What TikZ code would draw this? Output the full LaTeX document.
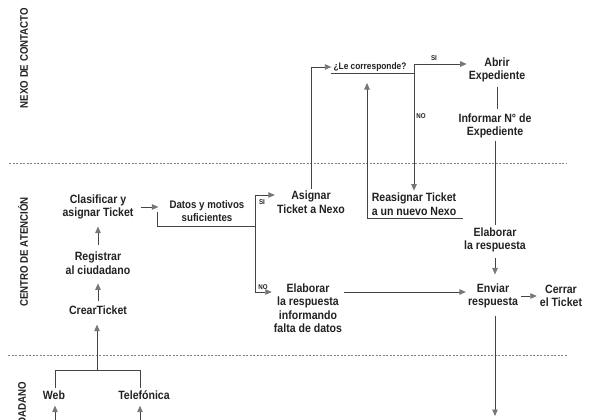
\documentclass[tikz,border=0pt]{standalone}
\usepackage{fontspec}
\newfontfamily\cf{Liberation Sans}[FakeStretch=0.88]
\usetikzlibrary{arrows.meta}
\definecolor{ink}{HTML}{222222}
\definecolor{lnc}{HTML}{444444}
\definecolor{tipc}{HTML}{777777}
\begin{document}
\begin{tikzpicture}[x=1pt,y=-1pt,
  txt/.style={font=\cf\bfseries\fontsize{12}{13.5}\selectfont, text=ink, align=center, inner sep=2pt},
  dtxt/.style={font=\cf\bfseries\fontsize{11}{12.5}\selectfont, text=ink, align=center, inner sep=2pt},
  smalltxt/.style={font=\cf\bfseries\fontsize{9.5}{11}\selectfont, text=ink, inner sep=2pt},
  tinytxt/.style={font=\cf\bfseries\fontsize{7}{8}\selectfont, text=ink, inner sep=1pt},
  lane/.style={font=\cf\bfseries\fontsize{11}{12}\selectfont, text=ink, rotate=90},
  lnk/.style={draw=lnc, line width=0.9pt},
  arr/.style={draw=lnc, line width=0.9pt, -{Triangle[length=6.5pt,width=5.5pt,color=tipc]}},
  lanesep/.style={draw=gray, line width=0.7pt, dash pattern=on 2pt off 1.5pt}]
\useasboundingbox (0,0) rectangle (594,420);
\clip (0,0) rectangle (594,420);
\fill[white] (0,0) rectangle (594,420);

% lane separators and labels
\draw[lanesep] (9,163) -- (567,163);
\draw[lanesep] (8,355) -- (567,355);
\node[lane] (l1) at (24,58) {NEXO DE CONTACTO};
\node[lane] (l2) at (23,252) {CENTRO DE ATENCIÓN};
\node[lane] (l3) at (22,412) {CIUDADANO};

% nodes
\node[txt] (clas) at (98,207) {Clasificar y\\asignar Ticket};
\node[txt] (reg) at (98,263) {Registrar\\al ciudadano};
\node[txt] (crear) at (98,310) {CrearTicket};
\node[dtxt] (datos) at (207,211) {Datos y motivos\\suficientes};
\node[txt] (asig) at (311,202) {Asignar\\Ticket a Nexo};
\node[txt] (elab1) at (308,308) {Elaborar\\la respuesta\\informando\\falta de datos};
\node[txt] (reas) at (414,204) {Reasignar Ticket\\a un nuevo Nexo};
\node[smalltxt] (lecor) at (370,67) {¿Le corresponde?};
\node[txt] (abrir) at (497,70) {Abrir\\Expediente};
\node[txt] (inform) at (495,126) {Informar N° de\\Expediente};
\node[txt] (elab2) at (495,240) {Elaborar\\la respuesta};
\node[txt] (enviar) at (493,296) {Enviar\\respuesta};
\node[txt] (cerrar) at (561,296) {Cerrar\\el Ticket};
\node[txt] (web) at (54,395) {Web};
\node[txt] (tel) at (144,395) {Telefónica};

% small labels
\node[tinytxt] (si1) at (262,202) {SI};
\node[tinytxt] (no1) at (263,287) {NO};
\node[tinytxt] (si2) at (434,58) {SI};
\node[tinytxt] (no2) at (421,116) {NO};

% coordinates
\coordinate (jl) at (55,370);
\coordinate (jr) at (140,370);
\coordinate (jm) at (97,370);
\coordinate (wb) at (55,425);
\coordinate (tb) at (140,425);
\coordinate (dl) at (157,212);
\coordinate (dj) at (255,226);
\coordinate (bt) at (255,195);
\coordinate (bb) at (255,292);
\coordinate (dq) at (414,64);
\coordinate (rr) at (463,218);
\coordinate (rt) at (367,83);
\coordinate (eb) at (495,416);

% ciudadano
\draw[lnk] (web.north -| jl) -- (jl) -- (jr) -- (tel.north -| jr);
\draw[arr, shorten >=4pt] (wb) -- (web.south -| wb);
\draw[arr, shorten >=4pt] (tb) -- (tel.south -| tb);
\draw[arr, shorten >=8pt] (jm) -- (jm |- crear.south);

% centro
\draw[arr, shorten <=2pt, shorten >=7pt] (crear.north) -- (reg.south);
\draw[arr, shorten <=5pt, shorten >=5pt] (reg.north) -- (clas.south);
\draw[arr, shorten <=5pt, shorten >=9pt] (clas.east) -- (clas.east -| datos.west);
\draw[lnk] (dl) |- (dj);
\draw[lnk] (bt) -- (bb);
\draw[arr] (bt) -- (bt -| asig.west);
\draw[arr] (bb) -- (bb -| elab1.west);
\draw[arr] (elab1.east |- bb) -- (enviar.west |- bb);
\draw[arr, shorten <=1pt, shorten >=1pt] (enviar.east) -- (cerrar.west);
\draw[arr, shorten <=3pt, shorten >=7pt] (elab2.south) -- (elab2.south |- enviar.north);
\draw[arr, shorten <=5pt] (enviar.south -| eb) -- (eb);

% nexo
\draw[arr] (asig.north) |- (lecor.west);
\draw[lnk] (lecor.south west) -- (lecor.south west -| dq);
\draw[arr] (dq) -- (reas.north -| dq);
\draw[arr] (dq) -- (dq -| abrir.west);
\draw[arr] (rr) -| (rt);
\draw[lnk, shorten <=2pt, shorten >=2pt] (abrir.south) -- (abrir.south |- inform.north);
\draw[lnk] (inform.south) -- (elab2.north);
\end{tikzpicture}
\end{document}
